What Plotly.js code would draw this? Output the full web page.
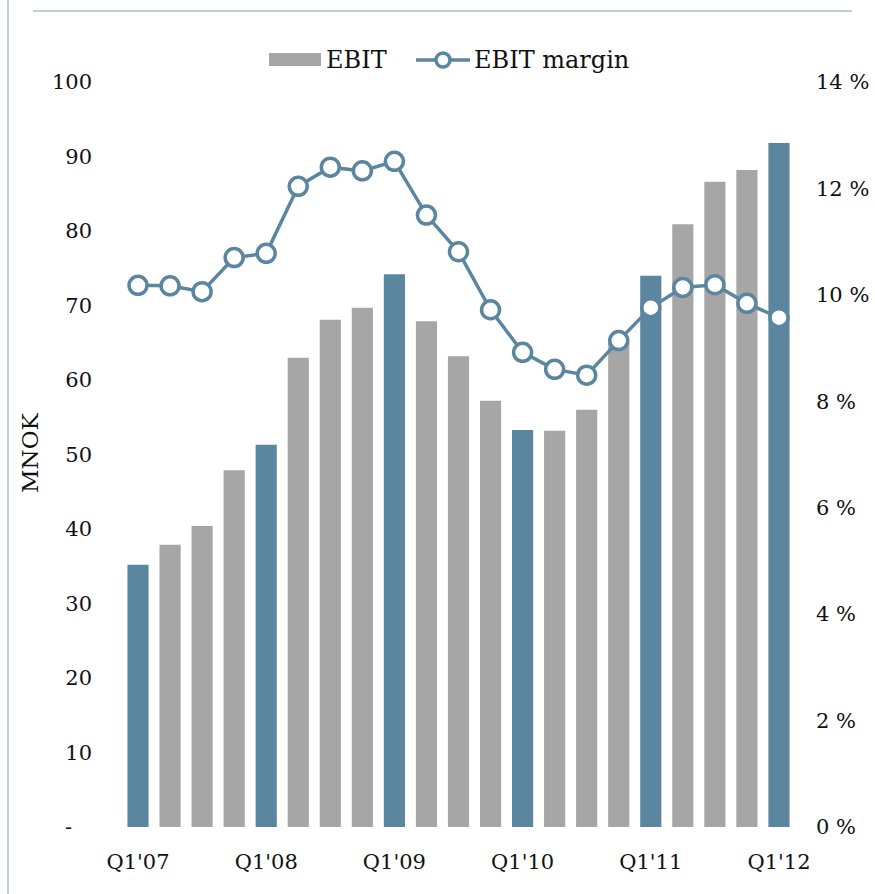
<!DOCTYPE html>
<html>
<head>
<meta charset="utf-8">
<script src="https://cdn.plot.ly/plotly-3.0.1.min.js"></script>
<style>html,body{margin:0;padding:0;background:#fff;}#chart{width:875px;height:894px;}</style>
</head>
<body>
<div id="chart"></div>
<script>
const quarters = ["Q1'07","Q2'07","Q3'07","Q4'07","Q1'08","Q2'08","Q3'08","Q4'08","Q1'09","Q2'09","Q3'09","Q4'09","Q1'10","Q2'10","Q3'10","Q4'10","Q1'11","Q2'11","Q3'11","Q4'11","Q1'12"];
const ebit = [35.2,37.9,40.4,47.9,51.3,63.0,68.1,69.7,74.2,67.9,63.2,57.2,53.3,53.2,56.0,65.0,74.0,80.9,86.6,88.2,91.8];
const ebitMargin = [10.18,10.17,10.06,10.70,10.78,12.04,12.40,12.33,12.51,11.50,10.81,9.72,8.92,8.60,8.49,9.14,9.76,10.14,10.19,9.84,9.57];
const leftTickVals = [0,10,20,30,40,50,60,70,80,90,100];
const leftTickText = ["-\u00a0\u00a0\u00a0","10","20","30","40","50","60","70","80","90","100"];
const rightTickVals = [0,2,4,6,8,10,12,14];
const rightTickText = ["0 %","2 %","4 %","6 %","8 %","10 %","12 %","14 %"];
const xTickLabels = ["Q1'07","Q1'08","Q1'09","Q1'10","Q1'11","Q1'12"];
const seriesNames = ["EBIT","EBIT margin"];

const BLUE = '#5b86a0';
const GRAY = '#a6a6a6';
const BORDER = '#a9bccd';
const barColors = quarters.map(q => q.startsWith('Q1') ? BLUE : GRAY);

const tickFont = {family: 'DejaVu Serif', size: 21, color: '#111'};

const data = [
  {type:'bar', name:seriesNames[0], x:quarters, y:ebit, marker:{color:barColors}, yaxis:'y', showlegend:false},
  {type:'scatter', mode:'lines+markers', name:seriesNames[1], x:quarters, y:ebitMargin, yaxis:'y2', showlegend:false,
   line:{color:BLUE, width:3.5}, marker:{symbol:'circle', size:18, color:'#ffffff', line:{color:BLUE, width:3.5}}}
];

const L=122, R=795, T=82, B=827;
const px = v => (v-L)/(R-L);
const py = v => (B-v)/(B-T);

const legendFont = {family:'DejaVu Serif', size:24, color:'#111'};

const layout = {
  width:875, height:894,
  margin:{l:L, r:875-R, t:T, b:894-B},
  paper_bgcolor:'#ffffff', plot_bgcolor:'#ffffff',
  bargap:0.34,
  showlegend:false,
  xaxis:{type:'category', categoryorder:'array', categoryarray:quarters, range:[-0.5,20.5],
         tickmode:'array', tickvals:xTickLabels, ticktext:xTickLabels,
         showgrid:false, zeroline:false, showline:false, ticks:'', ticklabelstandoff:20, tickfont:tickFont},
  yaxis:{range:[0,100], tickmode:'array', tickvals:leftTickVals, ticktext:leftTickText,
         showgrid:false, zeroline:false, showline:false, ticks:'', ticklabelstandoff:29, tickfont:tickFont},
  yaxis2:{range:[0,14], overlaying:'y', side:'right', tickmode:'array', tickvals:rightTickVals, ticktext:rightTickText,
          showgrid:false, zeroline:false, showline:false, ticks:'', ticklabelstandoff:20, tickfont:tickFont},
  annotations:[
    {text:'MNOK', xref:'paper', yref:'paper', x:px(30), y:py(453), textangle:-90, showarrow:false,
     xanchor:'center', yanchor:'middle', font:{family:'DejaVu Serif', size:23, color:'#111'}},
    {text:seriesNames[0], xref:'paper', yref:'paper', x:px(324), y:py(60), xanchor:'left', yanchor:'middle',
     showarrow:false, font:legendFont},
    {text:seriesNames[1], xref:'paper', yref:'paper', x:px(472), y:py(60), xanchor:'left', yanchor:'middle',
     showarrow:false, font:legendFont}
  ],
  shapes:[
    {type:'line', xref:'paper', yref:'paper', x0:px(8), x1:px(8), y0:py(0), y1:py(894), line:{color:BORDER, width:1.5}},
    {type:'line', xref:'paper', yref:'paper', x0:px(33), x1:px(852), y0:py(11), y1:py(11), line:{color:BORDER, width:1.5}},
    {type:'rect', xref:'paper', yref:'paper', x0:px(269), x1:px(321), y0:py(66), y1:py(53), fillcolor:GRAY, line:{width:0}},
    {type:'line', xref:'paper', yref:'paper', x0:px(416), x1:px(470), y0:py(60), y1:py(60), line:{color:BLUE, width:3.5}},
    {type:'circle', xref:'paper', yref:'paper', x0:px(436), x1:px(450), y0:py(67), y1:py(53), fillcolor:'#ffffff', line:{color:BLUE, width:3.5}}
  ]
};

Plotly.newPlot('chart', data, layout, {staticPlot:true, displayModeBar:false});
</script>
</body>
</html>
